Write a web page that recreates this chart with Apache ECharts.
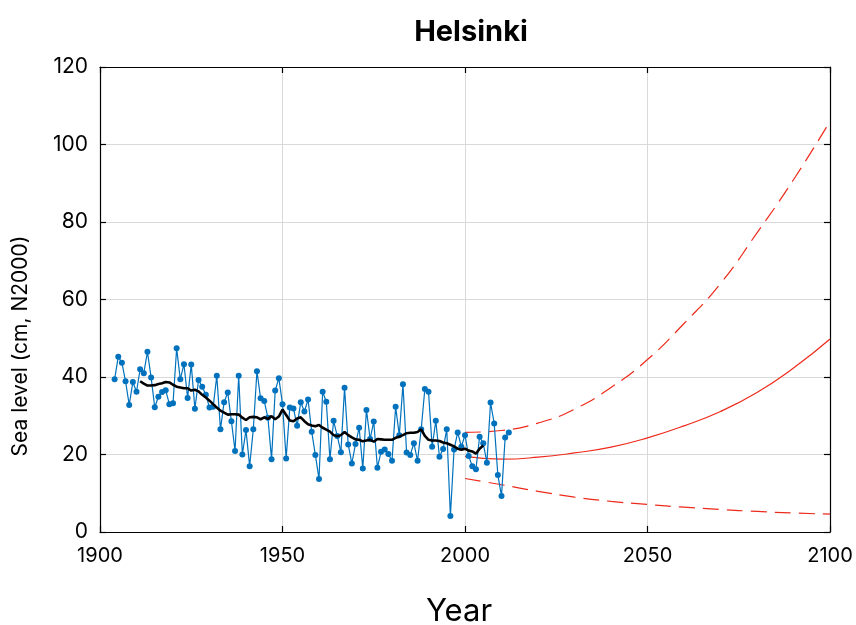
<!DOCTYPE html>
<html>
<head>
<meta charset="utf-8">
<script src="https://cdn.jsdelivr.net/npm/echarts@6/dist/echarts.min.js"></script>
<style>html,body{margin:0;padding:0;background:#fff}#c{width:856px;height:625px}</style>
</head>
<body>
<div id="c"></div>
<script>
// Observed annual mean sea level, Helsinki (cm, N2000), 1904-2012
const obsStartYear = 1904;
const obsValues = [
  39.4, 45.2, 43.7, 38.9, 32.8, 38.7, 36.2, 42.0, 41.0, 46.5,
  39.9, 32.2, 34.9, 36.1, 36.6, 33.0, 33.2, 47.4, 39.4, 43.3,
  34.6, 43.2, 31.8, 39.2, 37.5, 35.4, 32.1, 32.3, 40.3, 26.5,
  33.5, 36.0, 28.6, 20.9, 40.3, 20.0, 26.3, 17.0, 26.5, 41.5,
  34.5, 33.8, 29.5, 18.8, 36.5, 39.7, 33.0, 19.0, 32.1, 31.9,
  27.4, 33.5, 31.1, 34.2, 25.9, 19.9, 13.7, 36.2, 33.6, 18.8,
  28.7, 24.8, 20.6, 37.2, 22.6, 17.7, 22.7, 26.9, 16.4, 31.5,
  24.0, 28.5, 16.6, 20.7, 21.3, 20.1, 18.4, 32.3, 25.0, 38.1,
  20.5, 19.9, 22.9, 18.4, 26.5, 36.9, 36.2, 22.0, 28.7, 19.4,
  21.4, 26.5, 4.1, 21.3, 25.7, 22.0, 25.0, 19.6, 17.0, 16.2,
  24.6, 22.9, 17.9, 33.4, 28.0, 14.7, 9.3, 24.4, 25.7
];
// Running mean (black line), 1911-2005
const meanStartYear = 1911;
const meanValues = [
  38.9, 38.3, 37.8, 37.8, 37.9, 38.2, 38.4, 38.7, 38.6, 38.0,
  37.5, 37.3, 37.1, 37.1, 36.5, 36.7, 36.3, 35.4, 34.7, 33.9,
  33.0, 32.1, 31.3, 30.8, 30.3, 30.4, 30.4, 30.3, 29.5, 28.9,
  29.6, 29.7, 29.6, 29.1, 29.6, 29.2, 29.9, 29.1, 29.8, 31.6,
  30.2, 28.8, 28.6, 29.3, 29.6, 28.6, 27.8, 27.5, 27.3, 27.6,
  26.9, 26.4, 25.9, 25.0, 24.7, 25.0, 25.8, 25.0, 24.4, 23.9,
  23.8, 23.4, 23.6, 23.8, 23.3, 24.0, 23.9, 23.8, 23.8, 23.8,
  24.3, 24.6, 25.0, 25.5, 25.6, 25.6, 25.8, 26.5, 24.8, 23.8,
  23.6, 23.6, 23.5, 23.1, 22.9, 22.5, 22.1, 21.5, 21.2, 21.5,
  21.0, 20.8, 20.2, 21.5, 22.3
];
// Projections 2000-2100
const projYears = [2000, 2010, 2020, 2030, 2040, 2050, 2060, 2070, 2080, 2090, 2100];
const projMid   = [19.5, 18.8, 19.3, 20.4, 21.9, 24.3, 27.4, 31.1, 36.0, 42.3, 49.8];
const projHigh  = [25.7, 26.2, 28.1, 31.7, 37.3, 44.5, 53.8, 64.1, 77.2, 90.9, 106.0];
const projLow   = [13.8, 12.2, 10.5, 9.0, 7.9, 7.1, 6.4, 5.8, 5.3, 4.9, 4.6];
// Axis ticks
const xTicks = [1900, 1950, 2000, 2050, 2100];
const yTicks = [0, 20, 40, 60, 80, 100, 120];

const obsData = obsValues.map((v, i) => [obsStartYear + i, v]);
const meanData = meanValues.map((v, i) => [meanStartYear + i, v]);
const pair = (arr) => projYears.map((y, i) => [y, arr[i]]);

const FONT = 'Inter, Roboto, "DejaVu Sans", sans-serif';
const gridLeft = 100, gridTop = 67, gridRight = 26, gridBottom = 93;

const chart = echarts.init(document.getElementById('c'), null, {renderer: 'canvas'});
const commonX = {
  type: 'value', min: xTicks[0], max: xTicks[xTicks.length - 1], interval: 50,
};
const commonY = {
  type: 'value', min: yTicks[0], max: yTicks[yTicks.length - 1], interval: 20,
};
chart.setOption({
  animation: false,
  backgroundColor: '#fff',
  title: {
    text: 'Helsinki', left: 466, top: 13, textAlign: 'center',
    textStyle: {fontFamily: FONT, fontSize: 29, fontWeight: 'bold', color: '#000'}
  },
  graphic: [{
    type: 'text', x: 10, y: 346, rotation: Math.PI / 2,
    style: {
      text: 'Sea level (cm, N2000)', fontFamily: FONT, fontSize: 21, fill: '#000',
      textAlign: 'center', textVerticalAlign: 'top'
    }
  }, {
    type: 'text', x: 459, y: 612,
    style: {
      text: 'Year', fontFamily: FONT, fontSize: 31, fill: '#000',
      textAlign: 'center', textVerticalAlign: 'middle'
    }
  }],
  grid: {left: gridLeft, top: gridTop, right: gridRight, bottom: gridBottom,
         containLabel: false, outerBoundsMode: 'none'},
  xAxis: [
    Object.assign({}, commonX, {
      position: 'bottom',
      axisLine: {show: true, onZero: false, lineStyle: {color: '#000', width: 1.2}},
      axisTick: {show: true, inside: true, length: 6, lineStyle: {color: '#000', width: 1.2}},
      axisLabel: {fontFamily: FONT, fontSize: 20, color: '#000', margin: 14,
                  formatter: (v) => String(v)},
      splitLine: {show: true, lineStyle: {color: '#d9d9d9', width: 1}}
    }),
    Object.assign({}, commonX, {
      position: 'top',
      axisLine: {show: true, onZero: false, lineStyle: {color: '#000', width: 1.2}},
      axisTick: {show: true, inside: true, length: 6, lineStyle: {color: '#000', width: 1.2}},
      axisLabel: {show: false},
      splitLine: {show: false}
    })
  ],
  yAxis: [
    Object.assign({}, commonY, {
      position: 'left',
      axisLine: {show: true, onZero: false, lineStyle: {color: '#000', width: 1.2}},
      axisTick: {show: true, inside: true, length: 6, lineStyle: {color: '#000', width: 1.2}},
      axisLabel: {fontFamily: FONT, fontSize: 21, color: '#000', margin: 12},
      splitLine: {show: true, lineStyle: {color: '#d9d9d9', width: 1}}
    }),
    Object.assign({}, commonY, {
      position: 'right',
      axisLine: {show: true, onZero: false, lineStyle: {color: '#000', width: 1.2}},
      axisTick: {show: true, inside: true, length: 6, lineStyle: {color: '#000', width: 1.2}},
      axisLabel: {show: false},
      splitLine: {show: false}
    })
  ],
  series: [
    {
      type: 'line', data: pair(projLow), smooth: true, showSymbol: false, z: 1,
      lineStyle: {color: '#ee2a1b', width: 1.2, type: [16, 8]}
    },
    {
      type: 'line', data: pair(projHigh), smooth: true, showSymbol: false, z: 1,
      lineStyle: {color: '#ee2a1b', width: 1.2, type: [16, 8]}
    },
    {
      type: 'line', data: pair(projMid), smooth: true, showSymbol: false, z: 1,
      lineStyle: {color: '#ee2a1b', width: 1.2, type: 'solid'}
    },
    {
      type: 'line', data: obsData, z: 2,
      symbol: 'circle', symbolSize: 6, showSymbol: true,
      lineStyle: {color: '#0072BD', width: 1.2},
      itemStyle: {color: '#0072BD', borderWidth: 0}
    },
    {
      type: 'line', data: meanData, z: 3, showSymbol: false,
      lineStyle: {color: '#000', width: 2.6}
    }
  ]
});
</script>
</body>
</html>
